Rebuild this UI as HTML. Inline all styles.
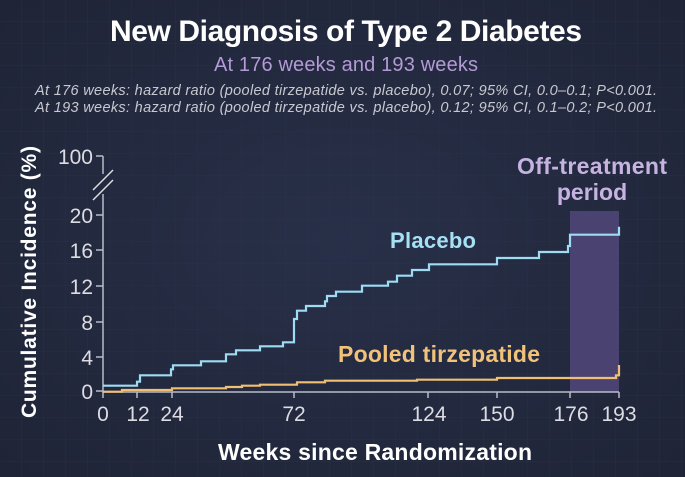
<!DOCTYPE html>
<html><head><meta charset="utf-8"><style>
html,body{margin:0;padding:0;}
body{width:685px;height:477px;background:#242a3f;overflow:hidden;}
svg{display:block;font-family:"Liberation Sans",Arial,sans-serif;}
</style></head><body>
<svg width="685" height="477" viewBox="0 0 685 477">
<defs>
<pattern id="g" width="22" height="22" patternUnits="userSpaceOnUse">
<path d="M22 0V22H0" fill="none" stroke="#2d3349" stroke-width="1"/>
</pattern>
<radialGradient id="rg" cx="0.5" cy="0.5" r="0.7">
<stop offset="0" stop-color="#283049"/><stop offset="1" stop-color="#1f2436"/>
</radialGradient>
</defs>
<rect width="685" height="477" fill="url(#rg)"/>
<rect width="685" height="477" fill="url(#g)" opacity="0.6"/>
<text x="346" y="41" text-anchor="middle" fill="#fff" font-size="30" font-weight="bold" textLength="472">New Diagnosis of Type 2 Diabetes</text>
<text x="346" y="71" text-anchor="middle" fill="#b49ad6" font-size="20" textLength="264">At 176 weeks and 193 weeks</text>
<text x="346" y="95" text-anchor="middle" fill="#c8c8d0" font-size="14.5" font-style="italic" textLength="622">At 176 weeks: hazard ratio (pooled tirzepatide vs. placebo), 0.07; 95% CI, 0.0–0.1; P&lt;0.001.</text>
<text x="346" y="112" text-anchor="middle" fill="#c8c8d0" font-size="14.5" font-style="italic" textLength="622">At 193 weeks: hazard ratio (pooled tirzepatide vs. placebo), 0.12; 95% CI, 0.1–0.2; P&lt;0.001.</text>

<rect x="570" y="211" width="49" height="181" fill="#4a4372"/>
<text x="592" y="174" text-anchor="middle" fill="#c7b3e2" font-size="23" font-weight="bold" textLength="150">Off-treatment</text>
<text x="592" y="200" text-anchor="middle" fill="#c7b3e2" font-size="23" font-weight="bold">period</text>

<g stroke="#b8bcc8" stroke-width="1.5" fill="none">
<path d="M103 156V174M103 194V392H619"/>
<path d="M96 156H103M96 215H103M96 250H103M96 286H103M96 322H103M96 357H103M96 391H103"/>
<path d="M103 392V398M137 392V398M172 392V398M294 392V398M428 392V398M497 392V398M570 392V398M619 392V398"/>
<path d="M93 200L113 180M93 190L113 170" stroke="#ddd"/>
</g>
<g fill="#dcdce2" font-size="21" text-anchor="end">
<text x="93" y="164">100</text>
<text x="93" y="223">20</text>
<text x="93" y="258">16</text>
<text x="93" y="294">12</text>
<text x="93" y="330">8</text>
<text x="93" y="365">4</text>
<text x="93" y="399">0</text>
</g>
<g fill="#dcdce2" font-size="21" text-anchor="middle">
<text x="103" y="421">0</text>
<text x="138" y="421">12</text>
<text x="172" y="421">24</text>
<text x="294" y="421">72</text>
<text x="429" y="421">124</text>
<text x="497" y="421">150</text>
<text x="571" y="421">176</text>
<text x="619" y="421">193</text>
</g>
<text x="375" y="460" text-anchor="middle" fill="#fff" font-size="23" font-weight="bold" textLength="314">Weeks since Randomization</text>
<text transform="translate(36,282) rotate(-90)" text-anchor="middle" fill="#fff" font-size="21" font-weight="bold" textLength="272">Cumulative Incidence (%)</text>

<path fill="none" stroke="#f0bf72" stroke-width="2.2" d="M103 391.7H122V390H172V388.3H226V387H242V385.7H260V384.7H297V382.3H325V380.7H417V379.7H497V378H616V375.3H619V365"/>
<path fill="none" stroke="#9edcf3" stroke-width="2.2" d="M103 385.7H137V381.7H140V375.3H171V369.3H173V365.3H201V361.3H226V354.3H236V350.3H260V346.3H283V342.3H294V319H297V310.7H306V306H325V301.3H327V296H336V291.7H362V285.7H388V281.7H397V275.7H412V270H429V264.3H497V258H539V252H568V246H570V234.7H619V226.7"/>
<text x="390" y="248" fill="#a6e0f5" font-size="22" font-weight="bold" textLength="86">Placebo</text>
<text x="338" y="362" fill="#f1c27a" font-size="23" font-weight="bold" textLength="202">Pooled tirzepatide</text>
</svg>
</body></html>
